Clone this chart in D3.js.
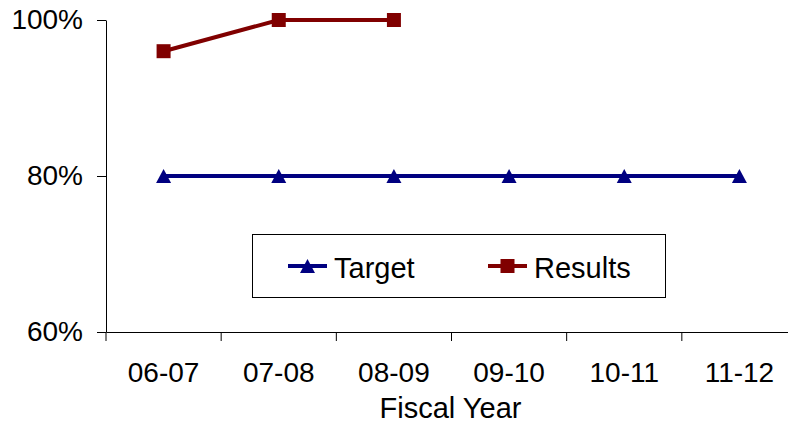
<!DOCTYPE html>
<html>
<head>
<meta charset="utf-8">
<script src="https://cdn.jsdelivr.net/npm/d3@7"></script>
<style>
  html, body { margin: 0; padding: 0; background: #fff; }
  svg { display: block; font-family: "Liberation Sans", Arial, sans-serif; }
</style>
</head>
<body>
<svg id="chart" width="788" height="427"></svg>
<script>
// Fiscal years on the category axis
const years = ["06-07", "07-08", "08-09", "09-10", "10-11", "11-12"];
// Target rate (%) for every year
const target = [80, 80, 80, 80, 80, 80];
// Reported results (%) — only the first three years are available
const results = [96, 100, 100];
// Value-axis ticks (%)
const yTicks = [60, 80, 100];

const svg = d3.select("#chart");
const margin = { left: 106, top: 20 };
const plotW = 691, plotH = 312;

const x = d3.scaleBand().domain(years).range([margin.left, margin.left + plotW]);
const y = d3.scaleLinear().domain([60, 100]).range([margin.top + plotH, margin.top]);
const cx = d => x(d) + x.bandwidth() / 2;

// Value axis
const yAxis = d3.axisLeft(y).tickValues(yTicks).tickFormat(d => d + "%")
  .tickSizeInner(9).tickSizeOuter(0).tickPadding(14);
const gy = svg.append("g").attr("transform", `translate(${margin.left},0)`).call(yAxis);
gy.select(".domain").attr("stroke", "#000").attr("stroke-width", 1);
gy.selectAll(".tick line").attr("stroke", "#000");
gy.selectAll(".tick text").attr("font-size", 28).attr("fill", "#000")
  .attr("font-family", "Liberation Sans, Arial, sans-serif");

// Category axis: ticks sit on the band boundaries
const xAxis = d3.axisBottom(x).tickSize(0).tickPadding(30);
const gx = svg.append("g").attr("transform", `translate(0,${margin.top + plotH})`).call(xAxis);
gx.select(".domain").attr("stroke", "#000").attr("stroke-width", 1);
gx.selectAll(".tick text").attr("font-size", 28).attr("fill", "#000")
  .attr("font-family", "Liberation Sans, Arial, sans-serif");
gx.selectAll(".boundary").data(years).enter().append("line")
  .attr("x1", d => x(d)).attr("x2", d => x(d))
  .attr("y1", 0).attr("y2", 9).attr("stroke", "#000");

// Axis title
svg.append("text").attr("x", margin.left + (x(years[5]) - margin.left + x.bandwidth()) / 2 - 1)
  .attr("y", 418).attr("text-anchor", "middle").attr("font-size", 29).text("Fiscal Year");

const line = d3.line().x((d, i) => cx(years[i])).y(d => y(d));

// Triangle marker, 15 px wide and 14 px tall, centred on the point
const triPath = "M0,-7L7.5,7L-7.5,7Z";

// Target series
const blue = "#000080", red = "#800000";
svg.append("path").datum(target).attr("d", line)
  .attr("fill", "none").attr("stroke", blue).attr("stroke-width", 4);
svg.selectAll(".tri").data(target).enter().append("path")
  .attr("d", triPath).attr("fill", blue)
  .attr("transform", (d, i) => `translate(${cx(years[i])},${y(d)})`);

// Results series
svg.append("path").datum(results).attr("d", line)
  .attr("fill", "none").attr("stroke", red).attr("stroke-width", 4);
svg.selectAll(".sq").data(results).enter().append("rect")
  .attr("x", (d, i) => cx(years[i]) - 7).attr("y", d => y(d) - 7)
  .attr("width", 14).attr("height", 14).attr("fill", red);

// Legend
const lg = svg.append("g");
lg.append("rect").attr("x", 252.5).attr("y", 234.5).attr("width", 413).attr("height", 63)
  .attr("fill", "#fff").attr("stroke", "#000").attr("stroke-width", 1);
const items = [
  { name: "Target", color: blue, x0: 288, mark: "tri" },
  { name: "Results", color: red, x0: 488, mark: "sq" }
];
items.forEach(it => {
  const ly = 266;
  lg.append("line").attr("x1", it.x0).attr("x2", it.x0 + 39).attr("y1", ly).attr("y2", ly)
    .attr("stroke", it.color).attr("stroke-width", 4);
  if (it.mark === "tri") {
    lg.append("path").attr("d", triPath).attr("fill", it.color)
      .attr("transform", `translate(${it.x0 + 19.5},${ly})`);
  } else {
    lg.append("rect").attr("x", it.x0 + 12.5).attr("y", ly - 7).attr("width", 14).attr("height", 14)
      .attr("fill", it.color);
  }
  lg.append("text").attr("x", it.x0 + 46).attr("y", ly + 12).attr("font-size", 29)
    .attr("fill", "#000").text(it.name);
});
</script>
</body>
</html>
